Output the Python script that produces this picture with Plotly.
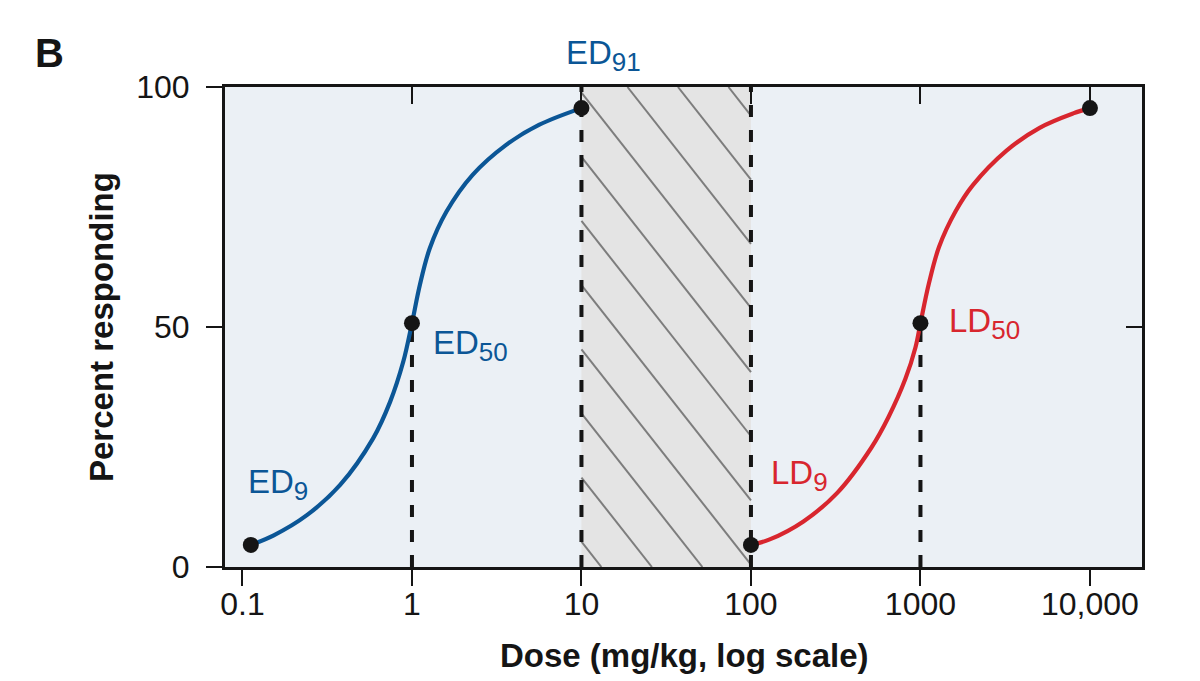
import plotly.graph_objects as go
import numpy as np

# ---------------- data ----------------
ed_dose = [0.112, 0.153, 0.24, 0.377, 0.59, 0.743, 0.889, 1.0, 1.114, 1.274, 1.596, 2.28, 3.58, 5.61, 10.0]
ed_resp = [4.6, 6.6, 10.8, 17.1, 26.8, 34.4, 42.8, 50.8, 58.8, 66.4, 74.0, 81.7, 87.9, 92.1, 95.6]

ld_dose = [100, 129, 204, 324, 514, 647, 815, 935, 1000, 1122, 1288, 1618, 2032, 3206, 5047, 7962, 10000]
ld_resp = [4.6, 5.75, 9.5, 15.5, 24.9, 31.2, 39.2, 45.8, 50.8, 59.1, 66.7, 74.2, 79.5, 86.7, 91.5, 94.5, 95.6]

ed_pts_dose = [0.112, 1.0, 10.0]
ed_pts_resp = [4.6, 50.8, 95.6]
ld_pts_dose = [100, 1000, 10000]
ld_pts_resp = [4.6, 50.8, 95.6]

window_dose = [10, 100]          # therapeutic window (hatched)
dash_dose = [1, 10, 100, 1000]
dash_top = [50.8, 100, 100, 50.8]

x_tickvals = [0.1, 1, 10, 100, 1000, 10000]
x_ticktext = ["0.1", "1", "10", "100", "1000", "10,000"]
y_tickvals = [0, 50, 100]
top_tickvals = [1, 10, 100, 1000, 10000]
right_tickvals = [50]

# ---------------- layout constants ----------------
OFF = 8                      # page body margin of the html page
W, H = 1200 - OFF, 681 - OFF
ML, MT = 225 - OFF, 87 - OFF
PW, PH = 917, 480
MR = W - ML - PW
MB = H - MT - PH
XMIN, XMAX = -1.103, 4.307
PX_PER_DEC = PW / (XMAX - XMIN)
PX_PER_Y = PH / 100.0

BLUE = "#0b5696"
RED = "#d8262e"
INK = "#151515"
FONT = "Liberation Sans"

fig = go.Figure()

# therapeutic window fill
fig.add_trace(go.Scatter(
    x=[window_dose[0], window_dose[1], window_dose[1], window_dose[0], window_dose[0]],
    y=[0, 0, 100, 100, 0], mode="lines", fill="toself",
    fillcolor="#e4e4e4", line=dict(width=0), hoverinfo="skip", showlegend=False))

# hatch lines (computed in pixel space, clipped to the window rectangle)
slope, spacing, first = 1.27, 50.5, 46.0
reg_w = PX_PER_DEC * (np.log10(window_dose[1]) - np.log10(window_dose[0]))
hx, hy = [], []
for k in range(-15, 6):
    u = first + k * spacing
    t0 = max(-u, 0.0)
    t1 = min(reg_w - u, PH / slope)
    if t1 <= t0:
        continue
    for t in (t0, t1):
        xpx = u + t
        ypx = slope * t
        hx.append(10 ** (np.log10(window_dose[0]) + xpx / PX_PER_DEC))
        hy.append(100 - ypx / PX_PER_Y)
    hx.append(None)
    hy.append(None)
fig.add_trace(go.Scatter(x=hx, y=hy, mode="lines",
                         line=dict(color="#7d7d7d", width=2),
                         hoverinfo="skip", showlegend=False))

# dashed verticals
for d, top in zip(dash_dose, dash_top):
    fig.add_trace(go.Scatter(x=[d, d], y=[0, top], mode="lines",
                             line=dict(color=INK, width=4, dash="12px,13px"),
                             hoverinfo="skip", showlegend=False))

# curves
fig.add_trace(go.Scatter(x=ed_dose, y=ed_resp, mode="lines",
                         line=dict(color=BLUE, width=4.2, shape="spline", smoothing=1.0),
                         showlegend=False))
fig.add_trace(go.Scatter(x=ld_dose, y=ld_resp, mode="lines",
                         line=dict(color=RED, width=4.2, shape="spline", smoothing=1.0),
                         showlegend=False))

# key points
fig.add_trace(go.Scatter(x=ed_pts_dose + ld_pts_dose, y=ed_pts_resp + ld_pts_resp,
                         mode="markers", marker=dict(color=INK, size=16),
                         cliponaxis=False, showlegend=False))

# dummy traces for the mirrored axes with inside ticks
fig.add_trace(go.Scatter(x=[None], y=[None], xaxis="x2", yaxis="y", showlegend=False))
fig.add_trace(go.Scatter(x=[None], y=[None], xaxis="x", yaxis="y2", showlegend=False))

tickfont = dict(family=FONT, size=32, color=INK)
fig.update_layout(
    width=W, height=H,
    margin=dict(l=ML, r=MR, t=MT, b=MB),
    paper_bgcolor="white", plot_bgcolor="#ebf0f5",
    xaxis=dict(type="log", range=[XMIN, XMAX], tickvals=x_tickvals, ticktext=x_ticktext,
               ticks="outside", ticklen=16, tickwidth=2, tickcolor=INK,
               showline=True, linewidth=3, linecolor=INK, mirror=True,
               showgrid=False, zeroline=False, tickfont=tickfont, ticklabelstandoff=-9),
    yaxis=dict(range=[0, 100], tickvals=y_tickvals,
               ticks="outside", ticklen=16, tickwidth=2, tickcolor=INK,
               showline=True, linewidth=3, linecolor=INK, mirror=True,
               showgrid=False, zeroline=False, tickfont=tickfont, ticklabelstandoff=10),
    xaxis2=dict(type="log", range=[XMIN, XMAX], overlaying="x", side="top",
                tickvals=top_tickvals, ticks="inside", ticklen=17, tickwidth=2,
                tickcolor=INK, showticklabels=False, showgrid=False, zeroline=False,
                showline=False),
    yaxis2=dict(range=[0, 100], overlaying="y", side="right", tickvals=right_tickvals,
                ticks="inside", ticklen=16, tickwidth=2, tickcolor=INK,
                showticklabels=False, showgrid=False, zeroline=False, showline=False),
    showlegend=False,
)


def px2paper(px, py):
    return ((px - OFF) - ML) / PW, ((H - MB) - (py - OFF)) / PH


def add_label(text, px, py, color, size=33, anchor="left", angle=0):
    xp, yp = px2paper(px, py)
    fig.add_annotation(xref="paper", yref="paper", x=xp, y=yp, text=text,
                       showarrow=False, xanchor=anchor, yanchor="middle",
                       textangle=angle, borderpad=0,
                       font=dict(family=FONT, size=size, color=color))


SUB = '<sub><span style="font-size:26px">{}</span></sub>'
add_label("ED" + SUB.format("91"), 565, 55, BLUE)
add_label("ED" + SUB.format("50"), 432, 345, BLUE)
add_label("ED" + SUB.format("9"), 247, 484, BLUE)
add_label("LD" + SUB.format("50"), 948, 323, RED)
add_label("LD" + SUB.format("9"), 770, 475, RED)

add_label("<b>Dose (mg/kg, log scale)</b>", 684, 655, INK, size=33, anchor="center")
add_label("<b>Percent responding</b>", 101, 327, INK, size=33, anchor="center", angle=-90)
add_label("<b>B</b>", 34, 53, INK, size=40, anchor="left")

fig.write_html("out.html")
